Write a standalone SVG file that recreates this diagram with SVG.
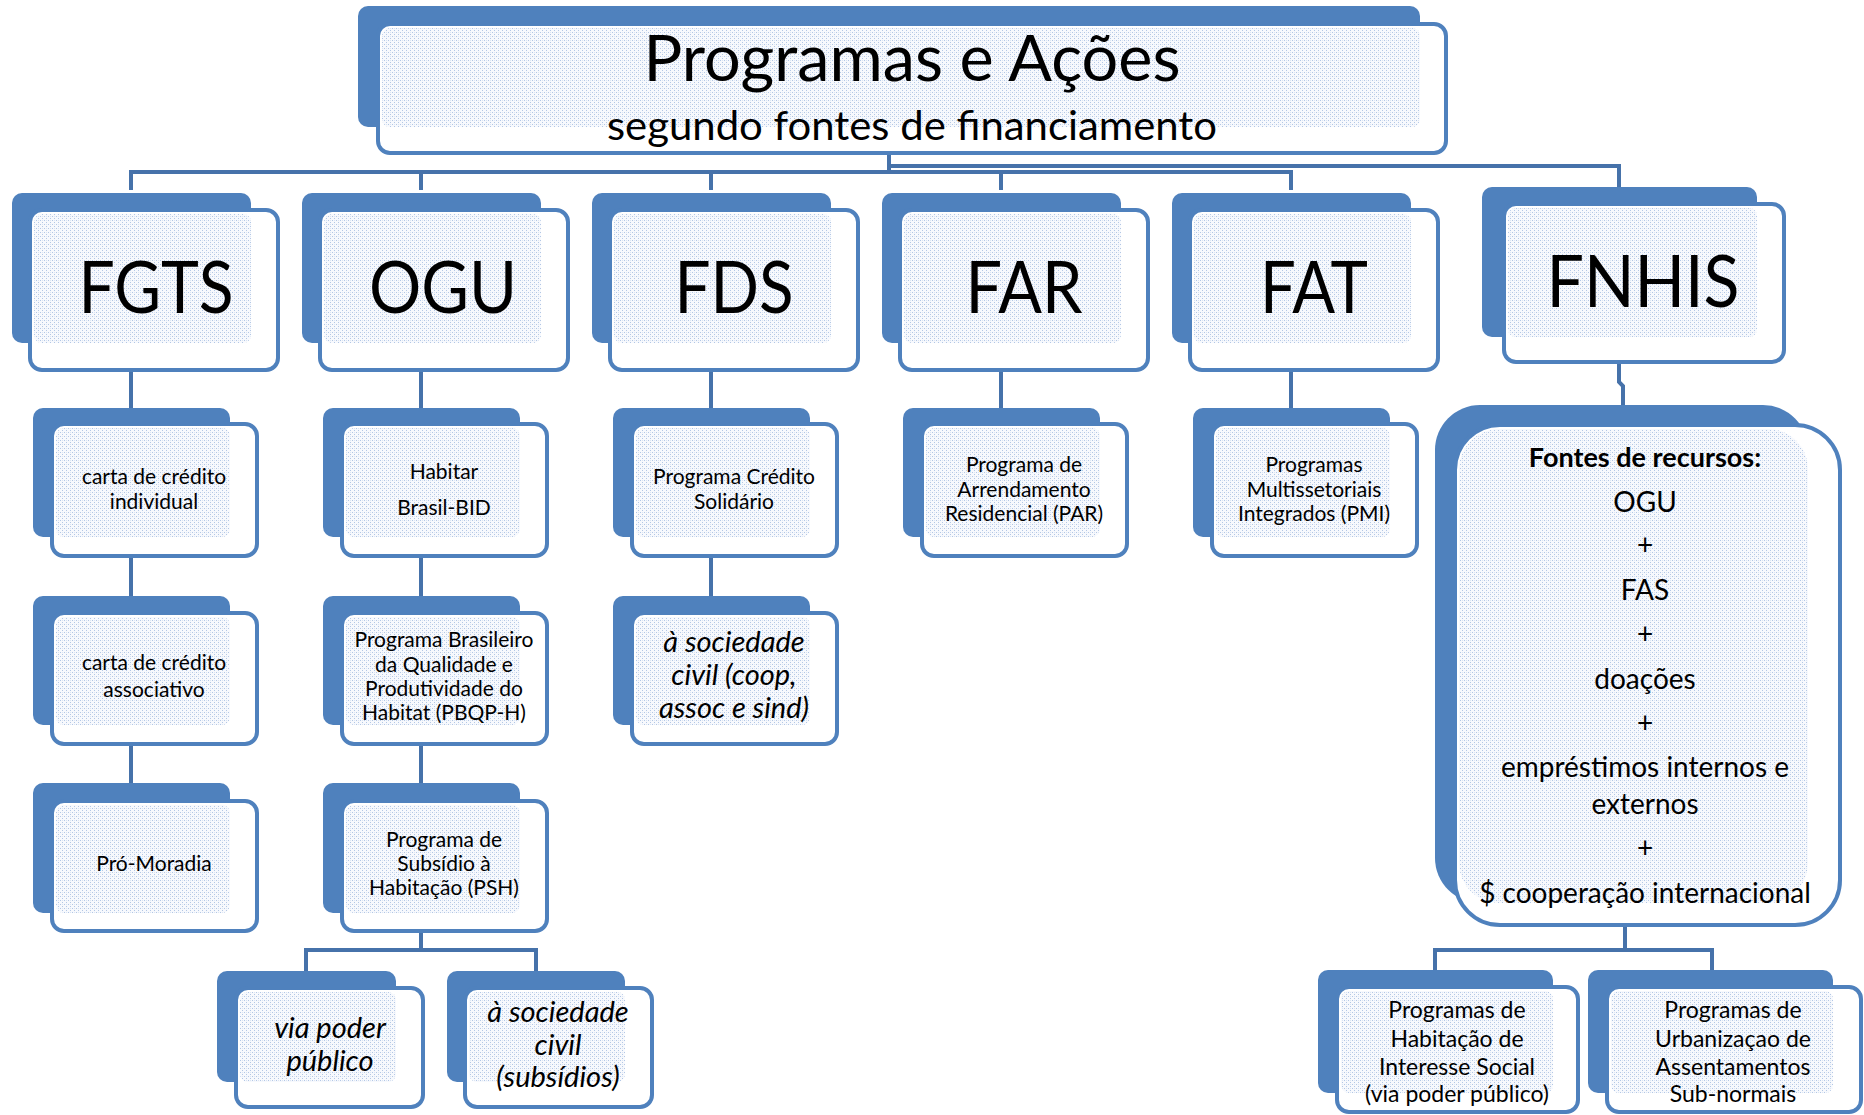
<svg xmlns="http://www.w3.org/2000/svg" width="1864" height="1115" viewBox="0 0 1864 1115">
<style>
.bk{fill:#4F81BD}
.fr{fill:#fff;stroke:#4F81BD;stroke-width:4}
.ov{fill:url(#dots)}
.conn{stroke:#4672aa;stroke-width:4;fill:none}
text{font-family:Lato,"Liberation Sans",sans-serif;fill:#000;text-anchor:middle}
.big{font-size:72px}
.sm{font-size:21px}
.it{font-size:29px;font-style:italic}
.fn{font-size:28px}
.bt{font-size:23px}
</style>
<defs>
<pattern id="dots" width="4" height="4" patternUnits="userSpaceOnUse">
<rect width="4" height="4" fill="#f7f9fd"/>
<rect x="0" y="0" width="1" height="1" fill="#b3c7e5"/>
<rect x="2" y="2" width="1" height="1" fill="#b3c7e5"/>
<rect x="2" y="0" width="1" height="1" fill="#dbe5f3"/>
</pattern>
</defs>

<g id="connectors">
<path class="conn" d="M889,153 V172"/>
<path class="conn" d="M131,190 V172 H1291 V190"/>
<path class="conn" d="M421,172 V190 M711,172 V190 M1001,172 V190"/>
<path class="conn" d="M889,166 H1619 V187"/>
<path class="conn" d="M131,370 V408 M421,370 V408 M711,370 V408 M1001,370 V408 M1291,370 V408"/>
<path class="conn" d="M131,556 V596 M421,556 V596 M711,556 V596"/>
<path class="conn" d="M131,744 V783 M421,744 V783"/>
<path class="conn" d="M1619,362 V382 L1623,386 V405"/>
<path class="conn" d="M421,931 V950 M306,971 V950 H536 V971"/>
<path class="conn" d="M1625,925 V950 M1435,970 V950 H1712 V970"/>
</g>

<g id="title">
<rect class="bk" x="358" y="6" width="1062" height="121" rx="10"/>
<rect class="fr" x="378" y="24" width="1068" height="129" rx="12"/>
<rect class="ov" x="382" y="28" width="1038" height="99" rx="8"/>
<text x="912" y="81" font-size="64" textLength="537" lengthAdjust="spacingAndGlyphs">Programas e Ações</text>
<text x="912" y="140" font-size="40" textLength="610" lengthAdjust="spacingAndGlyphs">segundo fontes de financiamento</text>
</g>

<g id="fgts">
<rect class="bk" x="12" y="193" width="239" height="150" rx="10"/>
<rect class="fr" x="30" y="210" width="248" height="160" rx="12"/>
<rect class="ov" x="34" y="214" width="217" height="129" rx="8"/>
<text class="big" x="156" y="313" textLength="155" lengthAdjust="spacingAndGlyphs">FGTS</text>
</g>
<g id="ogu">
<rect class="bk" x="302" y="193" width="239" height="150" rx="10"/>
<rect class="fr" x="320" y="210" width="248" height="160" rx="12"/>
<rect class="ov" x="324" y="214" width="217" height="129" rx="8"/>
<text class="big" x="443" y="313" textLength="148" lengthAdjust="spacingAndGlyphs">OGU</text>
</g>
<g id="fds">
<rect class="bk" x="592" y="193" width="239" height="150" rx="10"/>
<rect class="fr" x="610" y="210" width="248" height="160" rx="12"/>
<rect class="ov" x="614" y="214" width="217" height="129" rx="8"/>
<text class="big" x="734" y="313" textLength="119" lengthAdjust="spacingAndGlyphs">FDS</text>
</g>
<g id="far">
<rect class="bk" x="882" y="193" width="239" height="150" rx="10"/>
<rect class="fr" x="900" y="210" width="248" height="160" rx="12"/>
<rect class="ov" x="904" y="214" width="217" height="129" rx="8"/>
<text class="big" x="1024" y="313" textLength="117" lengthAdjust="spacingAndGlyphs">FAR</text>
</g>
<g id="fat">
<rect class="bk" x="1172" y="193" width="239" height="150" rx="10"/>
<rect class="fr" x="1190" y="210" width="248" height="160" rx="12"/>
<rect class="ov" x="1194" y="214" width="217" height="129" rx="8"/>
<text class="big" x="1314" y="313" textLength="108" lengthAdjust="spacingAndGlyphs">FAT</text>
</g>
<g id="fnhis">
<rect class="bk" x="1482" y="187" width="275" height="150" rx="10"/>
<rect class="fr" x="1504" y="204" width="280" height="158" rx="12"/>
<rect class="ov" x="1508" y="208" width="249" height="129" rx="8"/>
<text class="big" x="1643" y="307" textLength="193" lengthAdjust="spacingAndGlyphs">FNHIS</text>
</g>

<g id="carta-individual">
<rect class="bk" x="33" y="408" width="197" height="129" rx="10"/>
<rect class="fr" x="52" y="424" width="205" height="132" rx="12"/>
<rect class="ov" x="56" y="428" width="174" height="109" rx="8"/>
<text class="sm" x="154" y="484">carta de crédito</text>
<text class="sm" x="154" y="509">individual</text>
</g>
<g id="habitar">
<rect class="bk" x="323" y="408" width="197" height="129" rx="10"/>
<rect class="fr" x="342" y="424" width="205" height="132" rx="12"/>
<rect class="ov" x="346" y="428" width="174" height="109" rx="8"/>
<text class="sm" x="444" y="479">Habitar</text>
<text class="sm" x="444" y="515">Brasil-BID</text>
</g>
<g id="credito-solidario">
<rect class="bk" x="613" y="408" width="197" height="129" rx="10"/>
<rect class="fr" x="632" y="424" width="205" height="132" rx="12"/>
<rect class="ov" x="636" y="428" width="174" height="109" rx="8"/>
<text class="sm" x="734" y="484">Programa Crédito</text>
<text class="sm" x="734" y="509">Solidário</text>
</g>
<g id="par">
<rect class="bk" x="903" y="408" width="197" height="129" rx="10"/>
<rect class="fr" x="922" y="424" width="205" height="132" rx="12"/>
<rect class="ov" x="926" y="428" width="174" height="109" rx="8"/>
<text class="sm" x="1024" y="472">Programa de</text>
<text class="sm" x="1024" y="497">Arrendamento</text>
<text class="sm" x="1024" y="521">Residencial (PAR)</text>
</g>
<g id="pmi">
<rect class="bk" x="1193" y="408" width="197" height="129" rx="10"/>
<rect class="fr" x="1212" y="424" width="205" height="132" rx="12"/>
<rect class="ov" x="1216" y="428" width="174" height="109" rx="8"/>
<text class="sm" x="1314" y="472">Programas</text>
<text class="sm" x="1314" y="497">Multissetoriais</text>
<text class="sm" x="1314" y="521">Integrados (PMI)</text>
</g>

<g id="carta-associativo">
<rect class="bk" x="33" y="596" width="197" height="129" rx="10"/>
<rect class="fr" x="52" y="613" width="205" height="131" rx="12"/>
<rect class="ov" x="56" y="617" width="174" height="108" rx="8"/>
<text class="sm" x="154" y="670">carta de crédito</text>
<text class="sm" x="154" y="697">associativo</text>
</g>
<g id="pbqph">
<rect class="bk" x="323" y="596" width="197" height="129" rx="10"/>
<rect class="fr" x="342" y="613" width="205" height="131" rx="12"/>
<rect class="ov" x="346" y="617" width="174" height="108" rx="8"/>
<text class="sm" x="444" y="647">Programa Brasileiro</text>
<text class="sm" x="444" y="672">da Qualidade e</text>
<text class="sm" x="444" y="696">Produtividade do</text>
<text class="sm" x="444" y="720">Habitat (PBQP-H)</text>
</g>
<g id="sociedade-coop">
<rect class="bk" x="613" y="596" width="197" height="129" rx="10"/>
<rect class="fr" x="632" y="613" width="205" height="131" rx="12"/>
<rect class="ov" x="636" y="617" width="174" height="108" rx="8"/>
<text class="it" x="734" y="652">à sociedade</text>
<text class="it" x="734" y="685">civil (coop,</text>
<text class="it" x="734" y="718">assoc e sind)</text>
</g>

<g id="pro-moradia">
<rect class="bk" x="33" y="783" width="197" height="130" rx="10"/>
<rect class="fr" x="52" y="801" width="205" height="130" rx="12"/>
<rect class="ov" x="56" y="805" width="174" height="108" rx="8"/>
<text class="sm" x="154" y="871">Pró-Moradia</text>
</g>
<g id="psh">
<rect class="bk" x="323" y="783" width="197" height="130" rx="10"/>
<rect class="fr" x="342" y="801" width="205" height="130" rx="12"/>
<rect class="ov" x="346" y="805" width="174" height="108" rx="8"/>
<text class="sm" x="444" y="847">Programa de</text>
<text class="sm" x="444" y="871">Subsídio à</text>
<text class="sm" x="444" y="895">Habitação (PSH)</text>
</g>

<g id="via-poder-publico">
<rect class="bk" x="217" y="971" width="179" height="111" rx="10"/>
<rect class="fr" x="236" y="988" width="187" height="119" rx="12"/>
<rect class="ov" x="240" y="992" width="156" height="90" rx="8"/>
<text class="it" x="330" y="1038">via poder</text>
<text class="it" x="330" y="1071">público</text>
</g>
<g id="sociedade-subsidios">
<rect class="bk" x="447" y="971" width="178" height="111" rx="10"/>
<rect class="fr" x="465" y="988" width="187" height="119" rx="12"/>
<rect class="ov" x="469" y="992" width="156" height="90" rx="8"/>
<text class="it" x="558" y="1022">à sociedade</text>
<text class="it" x="558" y="1055">civil</text>
<text class="it" x="558" y="1087">(subsídios)</text>
</g>

<g id="fontes-recursos">
<rect class="bk" x="1435" y="405" width="373" height="498" rx="45"/>
<rect class="fr" x="1455" y="425" width="385" height="500" rx="45"/>
<rect class="ov" x="1459" y="429" width="349" height="474" rx="40"/>
<text x="1645" y="467" font-size="27" font-weight="bold">Fontes de recursos:</text>
<text class="fn" x="1645" y="512">OGU</text>
<text class="fn" x="1645" y="555">+</text>
<text class="fn" x="1645" y="600">FAS</text>
<text class="fn" x="1645" y="644">+</text>
<text class="fn" x="1645" y="689">doações</text>
<text class="fn" x="1645" y="733">+</text>
<text class="fn" x="1645" y="777">empréstimos internos e</text>
<text class="fn" x="1645" y="814">externos</text>
<text class="fn" x="1645" y="858">+</text>
<text class="fn" x="1645" y="903">$ cooperação internacional</text>
</g>

<g id="his">
<rect class="bk" x="1318" y="970" width="235" height="123" rx="10"/>
<rect class="fr" x="1337" y="987" width="241" height="125" rx="12"/>
<rect class="ov" x="1341" y="991" width="212" height="102" rx="8"/>
<text class="bt" x="1457" y="1018">Programas de</text>
<text class="bt" x="1457" y="1047">Habitação de</text>
<text class="bt" x="1457" y="1075">Interesse Social</text>
<text class="bt" x="1457" y="1102">(via poder público)</text>
</g>
<g id="urbanizacao">
<rect class="bk" x="1588" y="970" width="245" height="123" rx="10"/>
<rect class="fr" x="1607" y="987" width="254" height="125" rx="12"/>
<rect class="ov" x="1611" y="991" width="222" height="102" rx="8"/>
<text class="bt" x="1733" y="1018">Programas de</text>
<text class="bt" x="1733" y="1047">Urbanizaçao de</text>
<text class="bt" x="1733" y="1075">Assentamentos</text>
<text class="bt" x="1733" y="1102">Sub-normais</text>
</g>
</svg>
